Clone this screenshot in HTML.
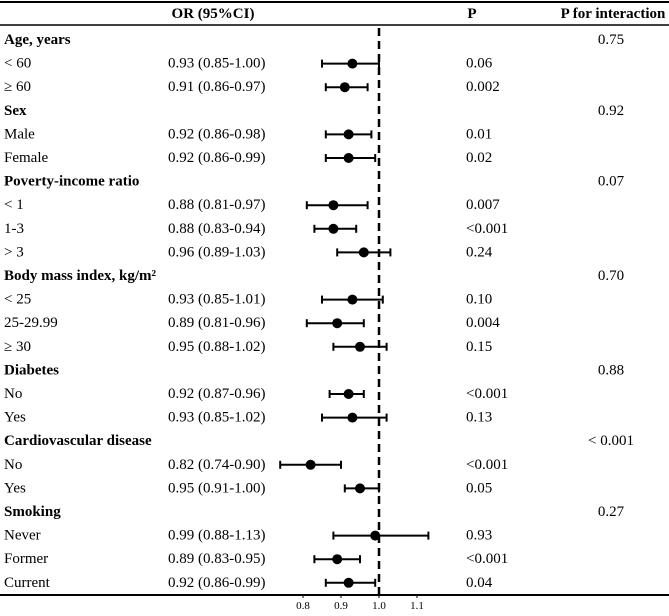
<!DOCTYPE html>
<html><head><meta charset="utf-8"><style>
html,body{margin:0;padding:0;background:#fff;}
svg{display:block;font-family:"Liberation Serif",serif;}
</style></head><body>
<svg id="chart" width="669" height="616" viewBox="0 0 669 616"></svg>
<script>
const labels = ["Age, years","< 60","\u2265 60","Sex","Male","Female","Poverty-income ratio","< 1","1-3","> 3","Body mass index, kg/m\u00b2","< 25","25-29.99","\u2265 30","Diabetes","No","Yes","Cardiovascular disease","No","Yes","Smoking","Never","Former","Current"];
const isHeader = [1,0,0,1,0,0,1,0,0,0,1,0,0,0,1,0,0,1,0,0,1,0,0,0];
const orVals = [null,0.93,0.91,null,0.92,0.92,null,0.88,0.88,0.96,null,0.93,0.89,0.95,null,0.92,0.93,null,0.82,0.95,null,0.99,0.89,0.92];
const lowVals = [null,0.85,0.86,null,0.86,0.86,null,0.81,0.83,0.89,null,0.85,0.81,0.88,null,0.87,0.85,null,0.74,0.91,null,0.88,0.83,0.86];
const highVals = [null,1.00,0.97,null,0.98,0.99,null,0.97,0.94,1.03,null,1.01,0.96,1.02,null,0.96,1.02,null,0.90,1.00,null,1.13,0.95,0.99];
const pVals = ["","0.06","0.002","","0.01","0.02","","0.007","<0.001","0.24","","0.10","0.004","0.15","","<0.001","0.13","","<0.001","0.05","","0.93","<0.001","0.04"];
const pInter = ["0.75","","","0.92","","","0.07","","","","0.70","","","","0.88","","","< 0.001","","","0.27","","",""];
const ticks = [0.8,0.9,1.0,1.1];

const svg = document.getElementById('chart');
const NS = 'http://www.w3.org/2000/svg';
const xs = v => 379 + (v - 1) * 380;
const ys = i => 40 + i * 23.6;
function mk(tag, attrs, parent){const e=document.createElementNS(NS,tag);for(const k in attrs)e.setAttribute(k,attrs[k]);(parent||svg).appendChild(e);return e;}
function txt(x,y,s,opts){const t=mk('text',Object.assign({x:x,y:y,'font-size':15,'dominant-baseline':'central',fill:'#000'},opts||{}));t.textContent=s;return t;}

let e;
e=mk('line',{x1:0,y1:2,x2:669,y2:2,stroke:'#000','stroke-width':2});


e=mk('line',{x1:0,y1:25,x2:669,y2:25,stroke:'#000','stroke-width':1.5});


e=txt(213,14,'OR (95%CI)',{'font-weight':'bold','text-anchor':'middle'});


e=txt(472,14,'P',{'font-weight':'bold','text-anchor':'middle'});


e=txt(613,14,'P for interaction',{'font-weight':'bold','text-anchor':'middle'});



e=mk('line',{x1:xs(1),y1:28,x2:xs(1),y2:595,stroke:'#000','stroke-width':2.5,'stroke-dasharray':'8,5'});


e=mk('line',{x1:0,y1:595,x2:669,y2:595,stroke:'#000','stroke-width':2});


ticks.forEach(t=>{
  const l=mk('line',{x1:xs(t),y1:595,x2:xs(t),y2:598,stroke:'#000','stroke-width':1});
  
  
  const tl=txt(xs(t),606,t.toFixed(1),{'font-size':11,'text-anchor':'middle'});
  
  
});

labels.forEach((lab,i)=>{
  const y=ys(i);
  const l=txt(4,y,lab,isHeader[i]?{'font-weight':'bold'}:{});
  
  
  if(pInter[i]){
    const pi=txt(611,y,pInter[i],{'text-anchor':'middle'});
    
    
  }
  if(orVals[i]!==null){
    const o=txt(168,y,orVals[i].toFixed(2)+' ('+lowVals[i].toFixed(2)+'-'+highVals[i].toFixed(2)+')');
    
    
    const p=txt(466,y,pVals[i]);
    
    
    const g=mk('g',{});
    
    
    mk('line',{x1:xs(lowVals[i]),y1:y,x2:xs(highVals[i]),y2:y,stroke:'#000','stroke-width':2},g);
    mk('line',{x1:xs(lowVals[i]),y1:y-4,x2:xs(lowVals[i]),y2:y+4,stroke:'#000','stroke-width':2},g);
    mk('line',{x1:xs(highVals[i]),y1:y-4,x2:xs(highVals[i]),y2:y+4,stroke:'#000','stroke-width':2},g);
    mk('circle',{cx:xs(orVals[i]),cy:y,r:5,fill:'#000'},g);
  }
});
</script>
</body></html>
